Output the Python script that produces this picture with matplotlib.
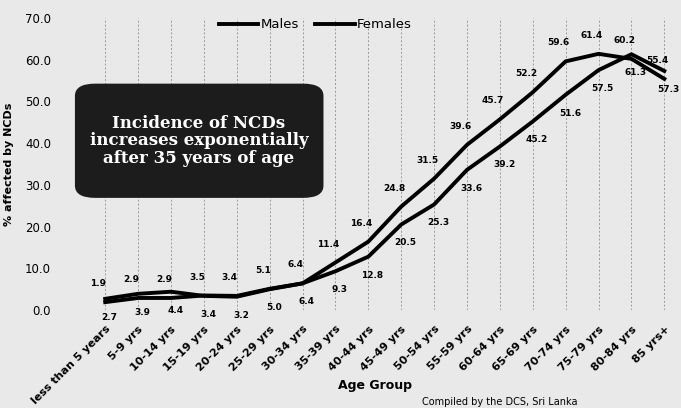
import matplotlib.pyplot as plt
from matplotlib.patches import FancyBboxPatch

# age groups
age_groups = ["less than 5 years", "5-9 yrs", "10-14 yrs", "15-19 yrs", "20-24 yrs",
              "25-29 yrs", "30-34 yrs", "35-39 yrs", "40-44 yrs", "45-49 yrs",
              "50-54 yrs", "55-59 yrs", "60-64 yrs", "65-69 yrs", "70-74 yrs",
              "75-79 yrs", "80-84 yrs", "85 yrs+"]

males = [1.9, 2.9, 2.9, 3.5, 3.4, 5.1, 6.4, 11.4, 16.4, 24.8, 31.5, 39.6,
         45.7, 52.2, 59.6, 61.4, 60.2, 55.4]
females = [2.7, 3.9, 4.4, 3.4, 3.2, 5.0, 6.4, 9.3, 12.8, 20.5, 25.3, 33.6,
           39.2, 45.2, 51.6, 57.5, 61.3, 57.3]

bg = "#e9e9e9"
fig = plt.figure(figsize=(6.81, 4.08), dpi=100, facecolor=bg)
ax = fig.add_axes([0.14, 0.24, 0.85, 0.716])
ax.set_facecolor(bg)

x = list(range(len(age_groups)))

# faint dotted verticals
for i in x:
    ax.axvline(i, color="#9a9a9a", lw=0.7, ls=(0, (2, 2)), zorder=1)

ax.plot(x, males, color="black", lw=2.8, label="Males", zorder=3)
ax.plot(x, females, color="black", lw=2.8, label="Females", zorder=3)

for i in x:
    ax.annotate(f"{males[i]:.1f}", (i, males[i]), xytext=(-5, 10),
                textcoords="offset points", ha="center", va="bottom",
                fontsize=6.5, fontweight="bold")
    ax.annotate(f"{females[i]:.1f}", (i, females[i]), xytext=(3, -10),
                textcoords="offset points", ha="center", va="top",
                fontsize=6.5, fontweight="bold")

ax.set_xlim(-0.3, 17.3)
ax.set_ylim(0, 70)
ax.set_yticks([0, 10, 20, 30, 40, 50, 60, 70])
ax.set_yticklabels([f"{v:.1f}" for v in [0, 10, 20, 30, 40, 50, 60, 70]], fontsize=8.5)
ax.set_xticks(x)
ax.set_xticklabels(age_groups, rotation=45, ha="right", rotation_mode="anchor",
                   fontsize=8, fontweight="bold")
ax.tick_params(axis="y", length=0, pad=32)
ax.tick_params(axis="x", length=0, pad=10)
for s in ax.spines.values():
    s.set_visible(False)

ax.set_ylabel("% affected by NCDs", fontsize=8, fontweight="bold", labelpad=8)

ax.legend(loc="upper center", bbox_to_anchor=(0.38, 1.04), ncol=2, frameon=False,
          fontsize=9.5, handlelength=3, columnspacing=1.2, handletextpad=0.2)

fig.text(0.55, 0.055, "Age Group", ha="center", va="center",
         fontsize=9, fontweight="bold")
fig.text(0.62, 0.003, "Compiled by the DCS, Sri Lanka", ha="left", va="bottom",
         fontsize=7)

# dark callout box
box = FancyBboxPatch((0.115, 0.52), 0.355, 0.27, transform=fig.transFigure,
                     boxstyle="round,pad=0.005,rounding_size=0.03",
                     facecolor="#1c1c1c", edgecolor="none", zorder=5)
fig.patches.append(box)
fig.text(0.292, 0.655, "Incidence of NCDs\nincreases exponentially\nafter 35 years of age",
         ha="center", va="center", color="white", fontsize=12, fontweight="bold",
         family="DejaVu Serif", linespacing=1.05, zorder=6)

fig.savefig("out.png", dpi=100, facecolor=bg)
